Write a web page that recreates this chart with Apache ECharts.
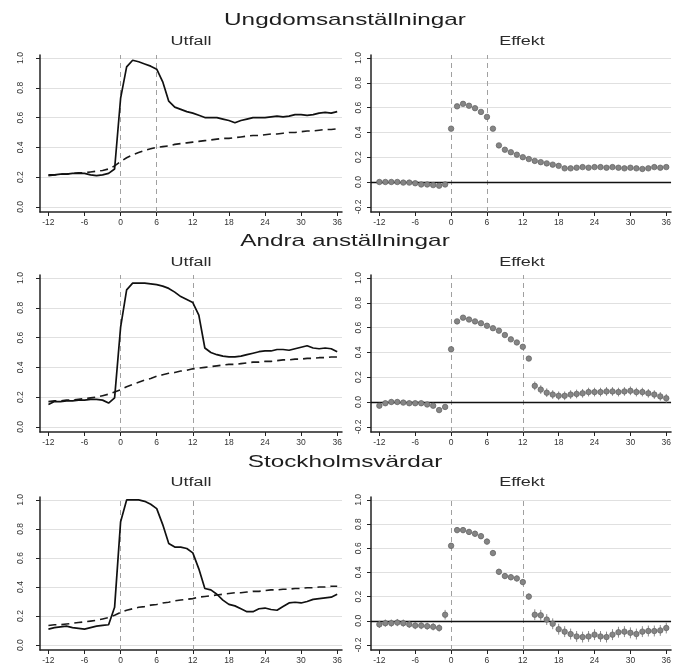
<!DOCTYPE html>
<html>
<head>
<meta charset="utf-8">
<script src="https://cdn.jsdelivr.net/npm/echarts@6/dist/echarts.min.js"></script>
<style>html,body{margin:0;padding:0;background:#fff}#c{width:674px;height:665px}</style>
</head>
<body>
<div id="c"></div>
<script>
// ---------- data ----------
const months = [-12,-11,-10,-9,-8,-7,-6,-5,-4,-3,-2,-1,0,1,2,3,4,5,6,7,8,9,10,11,12,13,14,15,16,17,18,19,20,21,22,23,24,25,26,27,28,29,30,31,32,33,34,35,36];
const xTicks = [-12,-6,0,6,12,18,24,30,36];
const yTicksUtfall = [0,0.2,0.4,0.6,0.8,1.0];
const yTicksEffekt = [-0.2,0,0.2,0.4,0.6,0.8,1.0];
const panelTitles = ['Ungdomsanställningar','Andra anställningar','Stockholmsvärdar'];
const subTitles = ['Utfall','Effekt'];
const eventLines = [[0,6],[0,12],[0,12]];

// Ungdomsanställningar
const ungUtfall = [0.215,0.215,0.22,0.22,0.225,0.225,0.225,0.215,0.21,0.215,0.225,0.255,0.73,0.94,0.985,0.975,0.96,0.945,0.925,0.84,0.71,0.67,0.655,0.64,0.63,0.615,0.60,0.60,0.60,0.59,0.58,0.565,0.58,0.59,0.60,0.60,0.60,0.605,0.61,0.605,0.61,0.62,0.62,0.615,0.62,0.63,0.635,0.63,0.64];
const ungCF = [0.21,0.215,0.22,0.22,0.225,0.23,0.23,0.235,0.24,0.245,0.255,0.275,0.305,0.33,0.35,0.365,0.38,0.39,0.40,0.405,0.41,0.42,0.425,0.43,0.435,0.44,0.445,0.45,0.455,0.46,0.46,0.465,0.47,0.475,0.48,0.48,0.485,0.49,0.49,0.495,0.50,0.50,0.505,0.51,0.51,0.515,0.52,0.52,0.525];
const ungEff = [0.0,0.0,0.0,0.0,-0.005,-0.005,-0.01,-0.02,-0.02,-0.025,-0.03,-0.02,0.43,0.61,0.63,0.615,0.595,0.565,0.525,0.43,0.295,0.26,0.24,0.22,0.20,0.185,0.17,0.16,0.15,0.14,0.13,0.11,0.11,0.115,0.12,0.115,0.12,0.12,0.115,0.12,0.115,0.11,0.115,0.11,0.105,0.11,0.12,0.115,0.12];
const ungHalf = [0.012,0.012,0.012,0.012,0.012,0.012,0.012,0.012,0.012,0.012,0.012,0.012,0.012,0.012,0.012,0.012,0.012,0.012,0.012,0.012,0.012,0.012,0.012,0.012,0.012,0.012,0.015,0.015,0.015,0.015,0.015,0.015,0.015,0.015,0.015,0.015,0.015,0.015,0.015,0.015,0.015,0.015,0.015,0.015,0.015,0.015,0.015,0.015,0.015];

// Andra anställningar
const andUtfall = [0.15,0.17,0.17,0.175,0.175,0.18,0.18,0.185,0.185,0.18,0.16,0.195,0.67,0.92,0.965,0.965,0.965,0.96,0.955,0.945,0.93,0.905,0.875,0.855,0.835,0.75,0.53,0.50,0.485,0.475,0.47,0.47,0.475,0.485,0.495,0.505,0.51,0.51,0.52,0.52,0.515,0.525,0.535,0.545,0.53,0.525,0.53,0.525,0.505];
const andCF = [0.17,0.175,0.175,0.18,0.18,0.185,0.19,0.195,0.20,0.21,0.22,0.235,0.25,0.27,0.285,0.30,0.315,0.325,0.34,0.35,0.36,0.365,0.375,0.38,0.39,0.395,0.40,0.405,0.41,0.415,0.42,0.42,0.425,0.43,0.435,0.435,0.44,0.44,0.445,0.45,0.45,0.455,0.455,0.46,0.46,0.465,0.465,0.47,0.47];
const andEff = [-0.03,-0.01,0.0,0.0,-0.005,-0.01,-0.01,-0.01,-0.02,-0.03,-0.065,-0.04,0.425,0.65,0.68,0.665,0.65,0.635,0.615,0.595,0.575,0.54,0.505,0.48,0.445,0.35,0.13,0.10,0.075,0.06,0.05,0.05,0.06,0.065,0.07,0.08,0.08,0.08,0.085,0.085,0.08,0.085,0.09,0.08,0.08,0.07,0.06,0.045,0.03];
const andHalf = [0.02,0.02,0.02,0.02,0.02,0.02,0.02,0.02,0.02,0.02,0.02,0.02,0.018,0.018,0.018,0.018,0.018,0.018,0.018,0.018,0.018,0.018,0.018,0.018,0.018,0.018,0.035,0.035,0.035,0.035,0.035,0.035,0.035,0.035,0.035,0.035,0.035,0.035,0.035,0.035,0.035,0.035,0.035,0.035,0.035,0.035,0.035,0.035,0.035];

// Stockholmsvärdar
const stockUtfall = [0.11,0.12,0.125,0.13,0.12,0.115,0.11,0.12,0.13,0.135,0.14,0.26,0.85,1.0,1.0,1.0,0.99,0.97,0.94,0.83,0.70,0.675,0.675,0.665,0.635,0.525,0.39,0.38,0.35,0.31,0.28,0.27,0.25,0.23,0.23,0.25,0.255,0.245,0.24,0.265,0.29,0.295,0.29,0.30,0.315,0.32,0.325,0.33,0.35];
const stockCF = [0.135,0.14,0.14,0.145,0.15,0.155,0.16,0.165,0.17,0.18,0.19,0.205,0.225,0.24,0.25,0.26,0.265,0.275,0.28,0.29,0.295,0.305,0.31,0.315,0.32,0.33,0.335,0.34,0.345,0.35,0.355,0.36,0.36,0.365,0.37,0.37,0.375,0.38,0.38,0.385,0.385,0.39,0.39,0.395,0.395,0.40,0.40,0.405,0.405];
const stockEff = [-0.03,-0.02,-0.02,-0.015,-0.02,-0.03,-0.04,-0.04,-0.045,-0.05,-0.06,0.05,0.62,0.75,0.75,0.735,0.72,0.70,0.655,0.56,0.405,0.37,0.36,0.35,0.32,0.20,0.05,0.045,0.01,-0.025,-0.07,-0.09,-0.11,-0.13,-0.135,-0.13,-0.115,-0.13,-0.135,-0.115,-0.095,-0.09,-0.10,-0.11,-0.09,-0.085,-0.085,-0.08,-0.06];
const stockHalf = [0.03,0.03,0.03,0.03,0.03,0.03,0.03,0.03,0.03,0.03,0.03,0.04,0.025,0.025,0.025,0.025,0.025,0.025,0.025,0.025,0.025,0.025,0.025,0.025,0.025,0.025,0.045,0.045,0.045,0.045,0.045,0.045,0.045,0.045,0.045,0.045,0.045,0.045,0.045,0.045,0.045,0.045,0.045,0.045,0.045,0.045,0.045,0.045,0.045];

const utfallSets = [ungUtfall, andUtfall, stockUtfall];
const cfSets = [ungCF, andCF, stockCF];
const effSets = [ungEff, andEff, stockEff];
const halfSets = [ungHalf, andHalf, stockHalf];

// ---------- layout ----------
const FONT = '"Liberation Sans", Arial, sans-serif';
const rowTop = [55, 275, 497];
const rowH = 157;
const colLeft = [40, 371];
const colW = 302;
const titleY = [20, 241, 462];
const subY = [42, 263, 483];

const grids = [], xAxes = [], yAxes = [], series = [], graphics = [];

function textEl(txt, x, y, size, sx, color) {
  return { type: 'text', x: x, y: y, scaleX: sx, silent: true, z: 10,
    style: { text: txt, font: size + 'px ' + FONT, fontSize: size, fontFamily: FONT, fill: color,
      textAlign: 'center', textVerticalAlign: 'middle', align: 'center', verticalAlign: 'middle' } };
}

for (let r = 0; r < 3; r++) {
  graphics.push(textEl(panelTitles[r], 345, titleY[r], 17, 1.43, '#1e1e1e'));
  for (let c = 0; c < 2; c++) {
    const idx = r * 2 + c;
    const isEff = c === 1;
    graphics.push(textEl(subTitles[c], colLeft[c] + colW / 2, subY[r], 12, 1.5, '#2a2a2a'));
    grids.push({ left: colLeft[c], top: rowTop[r], width: colW, height: rowH, containLabel: false });
    xAxes.push({
      type: 'value', gridIndex: idx, min: -13.4, max: 36.8,
      axisLine: { show: true, onZero: false, lineStyle: { color: '#222', width: 1.5 } },
      axisTick: { show: true, length: 4, customValues: xTicks, lineStyle: { color: '#222', width: 1 } },
      axisLabel: { show: true, customValues: xTicks, fontSize: 8.5, fontFamily: FONT, color: '#333', margin: 6 },
      splitLine: { show: false }
    });
    const yt = isEff ? yTicksEffekt : yTicksUtfall;
    yAxes.push({
      type: 'value', gridIndex: idx,
      min: isEff ? -0.242 : -0.034, max: isEff ? 1.024 : 1.02,
      axisLine: { show: true, onZero: false, lineStyle: { color: '#222', width: 1.5 } },
      axisTick: { show: true, length: 4, customValues: yt, lineStyle: { color: '#222', width: 1 } },
      axisLabel: { show: true, customValues: yt, rotate: 90, fontSize: 8.5, fontFamily: FONT, color: '#333',
        margin: isEff ? 8 : 15, formatter: v => Number(v).toFixed(1) },
      splitLine: { show: true, lineStyle: { color: '#e0e0e0', width: 1 } }
    });

    const vlines = eventLines[r].map(v => ({ xAxis: v }));
    if (!isEff) {
      series.push({
        type: 'line', xAxisIndex: idx, yAxisIndex: idx, z: 3,
        data: months.map((m, i) => [m, cfSets[r][i]]),
        showSymbol: false, symbol: 'none', silent: true,
        lineStyle: { color: '#1a1a1a', width: 1.6, type: [8, 5] }
      });
      series.push({
        type: 'line', xAxisIndex: idx, yAxisIndex: idx, z: 4,
        data: months.map((m, i) => [m, utfallSets[r][i]]),
        showSymbol: false, symbol: 'none', silent: true,
        lineStyle: { color: '#111', width: 1.7 },
        markLine: { silent: true, symbol: 'none', label: { show: false }, z: 1,
          lineStyle: { color: '#a0a0a0', width: 1, type: [5, 4] }, data: vlines }
      });
    } else {
      const eff = effSets[r], half = halfSets[r];
      series.push({
        type: 'custom', xAxisIndex: idx, yAxisIndex: idx, z: 3, silent: true,
        encode: { x: 0, y: [1, 2] },
        data: months.map((m, i) => [m, eff[i] - half[i], eff[i] + half[i]]),
        renderItem: function (params, api) {
          const p1 = api.coord([api.value(0), api.value(1)]);
          const p2 = api.coord([api.value(0), api.value(2)]);
          return { type: 'line', shape: { x1: p1[0], y1: p1[1], x2: p2[0], y2: p2[1] },
            style: { stroke: '#8a8a8a', lineWidth: 1 } };
        },
        markLine: { silent: true, symbol: 'none', label: { show: false }, z: 1,
          data: vlines.map(d => Object.assign({ lineStyle: { color: '#a0a0a0', width: 1, type: [5, 4] } }, d))
            .concat([{ yAxis: 0, lineStyle: { color: '#111', width: 1.3, type: 'solid' } }]) }
      });
      series.push({
        type: 'scatter', xAxisIndex: idx, yAxisIndex: idx, z: 4, silent: true,
        data: months.map((m, i) => [m, eff[i]]),
        symbol: 'circle', symbolSize: 5.5,
        itemStyle: { color: '#858585', borderColor: '#606060', borderWidth: 0.7, opacity: 1 }
      });
    }
  }
}

const chart = echarts.init(document.getElementById('c'), null, { renderer: 'canvas' });
chart.setOption({
  animation: false,
  backgroundColor: '#ffffff',
  grid: grids, xAxis: xAxes, yAxis: yAxes, series: series,
  graphic: { elements: graphics }
});
</script>
</body>
</html>
